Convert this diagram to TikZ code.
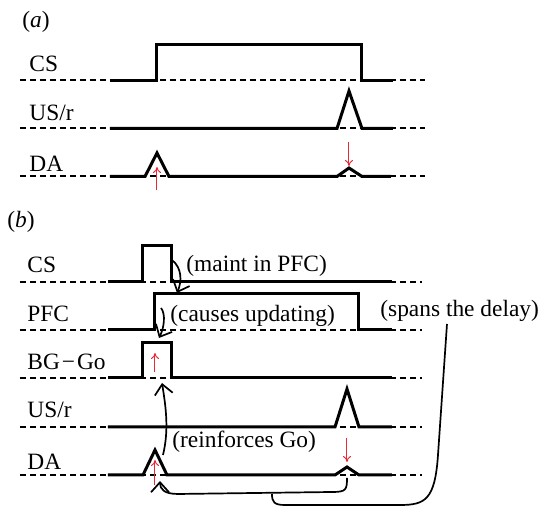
\documentclass[tikz,border=0pt]{standalone}
\usepackage{fontspec}
\setmainfont{Liberation Serif}
\usetikzlibrary{arrows.meta}

\definecolor{dared}{RGB}{232,40,52}

\begin{document}
\begin{tikzpicture}[x=0.5pt,y=-0.5pt,
    lbl/.style={anchor=base west,inner sep=0pt,font=\fontsize{11.7}{14}\selectfont,text=black},
    sig/.style={line width=1.5pt},
    baseline/.style={line width=1pt,dash pattern=on 3pt off 2pt},
    da/.style={dared,line width=0.5pt,-{To[length=3pt,width=4pt]}},
    link/.style={line width=0.85pt,-{Straight Barb[length=5pt,width=9pt]}}]
\useasboundingbox (0,0) rectangle (543,506);

% (a) signals without the PFC
\node[lbl] (a_tag)	at (22,28)	{(\textit{a})};
\node[lbl] (a_cs)	at (29,72)	{CS};
\node[lbl] (a_us)	at (29,121)	{US/r};
\node[lbl] (a_da)	at (29,172)	{DA};
\foreach \y in {80.5,128.5,176.5}
  \draw[baseline] (20,\y) -- (425,\y);
\draw[sig] (110,80.5) -- (157,80.5) -- (157,44.5) -- (362,44.5) -- (362,80.5) -- (393,80.5);
\draw[sig] (110,128.5) -- (337,128.5) -- (349,91) -- (362,128.5) -- (393,128.5);
\draw[sig] (110,176.5) -- (145,176.5) -- (157,153) -- (169,176.5) -- (337,176.5)
  -- (349,168) -- (362,176.5) -- (391,176.5);
\draw[da] (157,190) -- (157,167);
\draw[da] (349,142) -- (349,166);

% (b) signals with PFC and BG
\node[lbl] (b_tag)	at (7,228)	{(\textit{b})};
\node[lbl] (b_cs)	at (27,273)	{CS};
\node[lbl] (b_pfc)	at (27,322)	{PFC};
\node[lbl] (b_go)	at (27,370)	{BG\kern1pt−\kern1pt Go};
\node[lbl] (b_us)	at (27,418)	{US/r};
\node[lbl] (b_da)	at (27,470)	{DA};
\foreach \y in {282,330,378,427,475}
  \draw[baseline] (20,\y) -- (422,\y);
\draw[sig] (108,282) -- (143,282) -- (143,246) -- (172,246) -- (172,282) -- (392,282);
\draw[sig] (108,330) -- (155,330) -- (155,294) -- (359,294) -- (359,330) -- (392,330);
\draw[sig] (108,378) -- (143,378) -- (143,343) -- (172,343) -- (172,378) -- (392,378);
\draw[sig] (108,427) -- (335,427) -- (347,389) -- (359,427) -- (392,427);
\draw[sig] (108,475) -- (143,475) -- (155,450) -- (167,475) -- (335,475)
  -- (347,467) -- (359,475) -- (392,475);
\draw[da] (155,372) -- (155,353);
\draw[da] (155,485) -- (155,460);
\draw[da] (347,438) -- (347,462);

\node[lbl] (maint)	at (186,272)	{(maint in PFC)};
\node[lbl] (upd)	at (170,322)	{(causes updating)};
\node[lbl] (spans)	at (380,317)	{(spans the delay)};
\node[lbl] (reinf)	at (172,448)	{(reinforces Go)};

\coordinate (cs_off)	at (172,260);
\coordinate (pfc_on)	at (177,293);
\coordinate (pfc_up)	at (161,308);
\coordinate (go_on)	at (159,338);
\coordinate (da_top)	at (163,455);
\coordinate (go_base)	at (162,383);
\coordinate (da_dip)	at (347,478);
\coordinate (da_burst)	at (160,481);
\coordinate (spans_s)	at (447,324);
\coordinate (joint)	at (272,494);

\draw[link] (cs_off) .. controls +(10,8) and +(5,-12) .. (pfc_on);
\draw[link] (pfc_up) .. controls +(5,6) and +(5,-10) .. (go_on);
\draw[link] (da_top) .. controls +(6,-25) and +(4,25) .. (go_base);
\draw[link] (da_dip) .. controls +(0,12) and +(14,0) .. (332,492)
  -- (178,494) .. controls +(-14,0) and +(0,8) .. (da_burst);
\draw[line width=0.85pt] (spans_s) -- (438,455) .. controls (435,500) and (425,505) .. (400,505)
  -- (285,505) .. controls (274,505) and (272,502) .. (joint);
\end{tikzpicture}
\end{document}
